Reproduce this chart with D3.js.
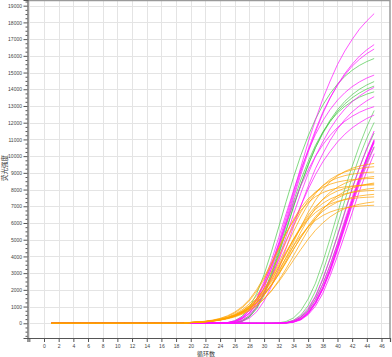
<!DOCTYPE html>
<html><head><meta charset="utf-8">
<script src="https://cdn.jsdelivr.net/npm/d3@7/dist/d3.min.js"></script>
<style>body{margin:0;background:#fff}svg{display:block}</style>
</head><body>
<svg id="chart" width="392" height="357"></svg>
<script>
// ---- data ----
const cycles = [1,2,3,4,5,6,7,8,9,10,11,12,13,14,15,16,17,18,19,20,21,22,23,24,25,26,27,28,29,30,31,32,33,34,35,36,37,38,39,40,41,42,43,44,45];
const xTicks = [-2,0,2,4,6,8,10,12,14,16,18,20,22,24,26,28,30,32,34,36,38,40,42,44,46];
const yTicks = [0,1000,2000,3000,4000,5000,6000,7000,8000,9000,10000,11000,12000,13000,14000,15000,16000,17000,18000,19000];
const xTitle = "循环数";
const yTitle = "荧光强度";

const earlyGreen = [
 [0,0,0,0,0,0,0,0,0,0,0,0,0,0,0,0,0,0,0, 0,0,0,1,7,39,150,421,949,1782,2920,4278,5767,7277,8718,10042,11204,12210,13048,13745,14310,14769,15135,15428,15659,15840],
 [0,0,0,0,0,0,0,0,0,0,0,0,0,0,0,0,0,0,0, 0,0,0,0,1,9,48,172,465,1003,1832,2923,4210,5592,6975,8287,9476,10521,11412,12160,12773,13276,13678,14002,14258,14461],
 [0,0,0,0,0,0,0,0,0,0,0,0,0,0,0,0,0,0,0, 0,0,0,0,0,4,28,121,377,873,1672,2797,4100,5500,6950,8261,9444,10501,11359,12069,12666,13125,13492,13779,14016,14190],
 [0,0,0,0,0,0,0,0,0,0,0,0,0,0,0,0,0,0,0, 0,0,0,0,0,4,27,123,386,944,1830,3027,4372,5837,7264,8571,9674,10643,11440,12079,12587,12974,13286,13528,13711,13848]
];
const earlyMagenta = [
 [0,0,0,0,0,0,0,0,0,0,0,0,0,0,0,0,0,0,0, 0,0,0,2,13,48,154,369,789,1435,2317,3500,4824,6343,7843,9334,10832,12159,13423,14494,15478,16287,16980,17599,18091,18526],
 [0,0,0,0,0,0,0,0,0,0,0,0,0,0,0,0,0,0,0, 0,0,0,1,5,28,98,279,630,1260,2120,3240,4541,5962,7479,8896,10222,11434,12550,13475,14267,14938,15500,15982,16362,16672],
 [0,0,0,0,0,0,0,0,0,0,0,0,0,0,0,0,0,0,0, 0,0,0,0,4,20,86,259,613,1225,2156,3308,4662,6116,7655,9072,10379,11557,12626,13501,14242,14858,15384,15797,16133,16405],
 [0,0,0,0,0,0,0,0,0,0,0,0,0,0,0,0,0,0,0, 0,0,0,0,4,27,109,330,769,1496,2506,3751,5134,6553,7928,9193,10321,11292,12113,12789,13347,13793,14156,14441,14671,14849],
 [0,0,0,0,0,0,0,0,0,0,0,0,0,0,0,0,0,0,0, 0,0,0,0,2,12,56,179,459,965,1733,2748,3890,5187,6506,7776,8945,9989,10859,11633,12282,12816,13254,13596,13883,14115],
 [0,0,0,0,0,0,0,0,0,0,0,0,0,0,0,0,0,0,0, 0,0,0,0,1,6,29,109,309,696,1334,2219,3263,4486,5759,7014,8187,9252,10144,10948,11625,12184,12647,13007,13312,13558],
 [0,0,0,0,0,0,0,0,0,0,0,0,0,0,0,0,0,0,0, 0,0,0,1,6,32,123,344,776,1458,2389,3500,4719,5954,7133,8216,9167,9990,10676,11246,11708,12084,12383,12623,12812,12960],
 [0,0,0,0,0,0,0,0,0,0,0,0,0,0,0,0,0,0,0, 0,0,0,1,6,27,100,273,585,1109,1849,2773,3780,4893,6008,7028,8012,8892,9658,10288,10846,11309,11692,11994,12252,12459]
];
const orangeCurves = [
 [0,0,0,0,0,0,0,0,0,0,0,0,0,0,0,0,0,0,0, 45,65,94,139,203,296,427,617,876,1241,1713,2334,3070,3939,4850,5761,6630,7366,7987,8459,8824,9083,9273,9404,9497,9561],
 [0,0,0,0,0,0,0,0,0,0,0,0,0,0,0,0,0,0,0, 48,71,106,157,232,343,503,730,1050,1485,2056,2771,3612,4536,5474,6356,7125,7754,8241,8604,8866,9050,9179,9267,9326,9367],
 [0,0,0,0,0,0,0,0,0,0,0,0,0,0,0,0,0,0,0, 47,72,108,164,247,367,546,807,1164,1660,2307,3080,3984,4936,5834,6653,7328,7841,8233,8510,8700,8833,8923,8982,9022,9049],
 [0,0,0,0,0,0,0,0,0,0,0,0,0,0,0,0,0,0,0, 44,64,94,138,200,293,422,603,864,1210,1678,2256,2973,3766,4628,5457,6234,6888,7429,7839,8145,8375,8535,8649,8727,8782],
 [0,0,0,0,0,0,0,0,0,0,0,0,0,0,0,0,0,0,0, 50,76,117,177,273,412,619,923,1344,1924,2641,3512,4437,5375,6203,6909,7444,7847,8126,8321,8450,8537,8594,8631,8655,8671],
 [0,0,0,0,0,0,0,0,0,0,0,0,0,0,0,0,0,0,0, 43,62,88,127,186,266,379,539,758,1056,1448,1949,2560,3268,4040,4827,5579,6251,6817,7273,7625,7889,8082,8222,8321,8390],
 [0,0,0,0,0,0,0,0,0,0,0,0,0,0,0,0,0,0,0, 46,69,102,151,223,329,481,699,1001,1411,1945,2604,3371,4200,5029,5796,6455,6989,7399,7701,7919,8071,8177,8249,8298,8331],
 [0,0,0,0,0,0,0,0,0,0,0,0,0,0,0,0,0,0,0, 53,82,126,193,295,446,672,989,1429,2027,2754,3614,4502,5378,6132,6761,7229,7577,7815,7981,8090,8163,8210,8242,8263,8276],
 [0,0,0,0,0,0,0,0,0,0,0,0,0,0,0,0,0,0,0, 52,76,110,158,227,324,466,658,919,1267,1715,2271,2924,3651,4407,5142,5813,6388,6856,7223,7499,7702,7850,7955,8029,8081],
 [0,0,0,0,0,0,0,0,0,0,0,0,0,0,0,0,0,0,0, 38,58,88,133,199,299,446,654,954,1366,1895,2566,3346,4160,4980,5720,6327,6816,7180,7437,7621,7746,7830,7888,7926,7950],
 [0,0,0,0,0,0,0,0,0,0,0,0,0,0,0,0,0,0,0, 46,69,99,146,211,308,443,637,898,1257,1710,2287,2945,3666,4423,5125,5763,6281,6703,7015,7251,7415,7536,7617,7675,7714],
 [0,0,0,0,0,0,0,0,0,0,0,0,0,0,0,0,0,0,0, 43,65,99,147,223,334,492,724,1050,1480,2044,2728,3478,4273,5027,5673,6214,6628,6926,7143,7294,7394,7463,7510,7540,7560],
 [0,0,0,0,0,0,0,0,0,0,0,0,0,0,0,0,0,0,0, 52,73,104,148,209,295,417,582,800,1095,1476,1933,2489,3113,3774,4413,5026,5566,6006,6368,6648,6859,7010,7124,7205,7262],
 [0,0,0,0,0,0,0,0,0,0,0,0,0,0,0,0,0,0,0, 38,58,88,133,200,298,443,652,944,1338,1855,2475,3179,3921,4625,5245,5762,6156,6448,6657,6802,6900,6967,7012,7041,7061]
];
const lateGreen = [
 [0,0,0,0,0,0,0,0,0,0,0,0,0,0,0,0,0,0,0,0,0,0,0,0,0,0,0,0,0, 1,5,27,109,321,748,1452,2397,3658,5073,6565,8043,9381,10649,11767,12726],
 [0,0,0,0,0,0,0,0,0,0,0,0,0,0,0,0,0,0,0,0,0,0,0,0,0,0,0,0,0, 0,1,10,50,181,490,1056,1928,3077,4432,5886,7342,8723,9974,11075,12013],
 [0,0,0,0,0,0,0,0,0,0,0,0,0,0,0,0,0,0,0,0,0,0,0,0,0,0,0,0,0, 0,1,5,29,124,360,829,1584,2623,3884,5275,6696,8060,9314,10424,11382],
 [0,0,0,0,0,0,0,0,0,0,0,0,0,0,0,0,0,0,0,0,0,0,0,0,0,0,0,0,0, 0,1,6,33,123,342,744,1413,2339,3477,4751,6069,7308,8519,9614,10569]
];
const lateMagenta = [
 [0,0,0,0,0,0,0,0,0,0,0,0,0,0,0,0,0,0,0,0,0,0,0,0,0,0,0,0,0, 0,2,10,46,167,421,899,1630,2668,3882,5226,6617,8039,9316,10481,11504],
 [0,0,0,0,0,0,0,0,0,0,0,0,0,0,0,0,0,0,0,0,0,0,0,0,0,0,0,0,0, 0,1,7,35,125,341,744,1437,2358,3494,4774,6179,7514,8776,9926,10992],
 [0,0,0,0,0,0,0,0,0,0,0,0,0,0,0,0,0,0,0,0,0,0,0,0,0,0,0,0,0, 0,0,4,20,78,248,592,1208,2090,3178,4488,5886,7285,8616,9786,10866],
 [0,0,0,0,0,0,0,0,0,0,0,0,0,0,0,0,0,0,0,0,0,0,0,0,0,0,0,0,0, 0,0,4,19,76,240,573,1170,2025,3079,4348,5702,7057,8347,9480,10526],
 [0,0,0,0,0,0,0,0,0,0,0,0,0,0,0,0,0,0,0,0,0,0,0,0,0,0,0,0,0, 0,0,3,16,65,198,512,1023,1790,2840,4019,5304,6609,7928,9095,10149],
 [0,0,0,0,0,0,0,0,0,0,0,0,0,0,0,0,0,0,0,0,0,0,0,0,0,0,0,0,0, 0,0,5,26,97,276,635,1246,2071,3173,4455,5767,7156,8496,9735,10804],
 [0,0,0,0,0,0,0,0,0,0,0,0,0,0,0,0,0,0,0,0,0,0,0,0,0,0,0,0,0, 0,1,5,26,99,280,667,1286,2163,3271,4604,5960,7318,8669,9859,10916],
 [0,0,0,0,0,0,0,0,0,0,0,0,0,0,0,0,0,0,0,0,0,0,0,0,0,0,0,0,0, 0,0,3,16,73,234,572,1193,2063,3242,4546,5928,7363,8666,9897,10937]
];

// ---- drawing ----
const svg = d3.select("#chart");
const padL = 27.5, padR = 390, padT = 0.5, padB = 338;
const x = d3.scaleLinear().domain([-2.25, 47.16]).range([padL, padR]);
const y = d3.scaleLinear().domain([-880, 19340]).range([padB, 0]);

const minorY = d3.range(-750, 19340, 250).filter(v => v % 1000 !== 0);

// grid
const grid = svg.append("g").attr("stroke", "#e4e4e4").attr("stroke-width", 1);
grid.append("g").selectAll("line").data(xTicks).join("line")
  .attr("x1", d => Math.round(x(d)) + 0.5).attr("x2", d => Math.round(x(d)) + 0.5)
  .attr("y1", padT).attr("y2", padB);
grid.append("g").selectAll("line").data(yTicks).join("line")
  .attr("x1", padL).attr("x2", padR)
  .attr("y1", d => Math.round(y(d)) + 0.5).attr("y2", d => Math.round(y(d)) + 0.5);

// frame (top / right)
svg.append("path").attr("d", `M${padL},${padT}H${padR}V${padB}`)
  .attr("fill", "none").attr("stroke", "#9a9a9a").attr("stroke-width", 1.5);

// curves
const line = d3.line().x((d, i) => x(cycles[i])).y(d => y(d));
function drawSet(set, color, op) {
  svg.append("g").selectAll("path").data(set).join("path")
    .attr("d", line).attr("fill", "none")
    .attr("stroke", color).attr("stroke-width", 1).attr("stroke-opacity", op);
}
drawSet(lateGreen, "#3dc43d", 0.6);
drawSet(earlyGreen, "#3dc43d", 0.65);
drawSet(lateMagenta, "#ff10ff", 0.75);
drawSet(earlyMagenta, "#ff10ff", 0.7);
drawSet(orangeCurves, "#ffa200", 0.7);

// axes
const fontFam = "'Liberation Sans', Arial, sans-serif";
const axes = svg.append("g").attr("class", "axes");
axes.append("g").attr("transform", `translate(${padL},0)`)
  .call(d3.axisLeft(y).tickValues(yTicks).tickSize(4).tickPadding(1.5).tickFormat(d3.format("d")));
axes.append("g").attr("transform", `translate(${padL},0)`)
  .call(d3.axisLeft(y).tickValues(minorY).tickSize(2).tickFormat(""))
  .call(g => g.select(".domain").remove());
axes.append("g").attr("transform", `translate(0,${padB})`)
  .call(d3.axisBottom(x).tickValues(xTicks).tickSize(4).tickPadding(2.5).tickFormat(d => d < 0 ? "" : d));
axes.selectAll(".domain").attr("stroke", "#555").attr("stroke-width", 1.2);
axes.selectAll(".tick line").attr("stroke", "#555");
axes.selectAll(".tick text").attr("fill", "#444").style("fill", "#444")
  .attr("font-size", 5).attr("font-family", fontFam);

// titles
svg.append("text").attr("x", 206).attr("y", 355.5)
  .attr("text-anchor", "middle").attr("font-size", 6).attr("fill", "#333")
  .attr("font-family", "'Noto Sans CJK SC', sans-serif").text(xTitle);
svg.append("text").attr("transform", "translate(6.5,168) rotate(-90)")
  .attr("text-anchor", "middle").attr("font-size", 6.5).attr("fill", "#333")
  .attr("font-family", "'Noto Sans CJK SC', sans-serif").text(yTitle);
</script>
</body></html>
